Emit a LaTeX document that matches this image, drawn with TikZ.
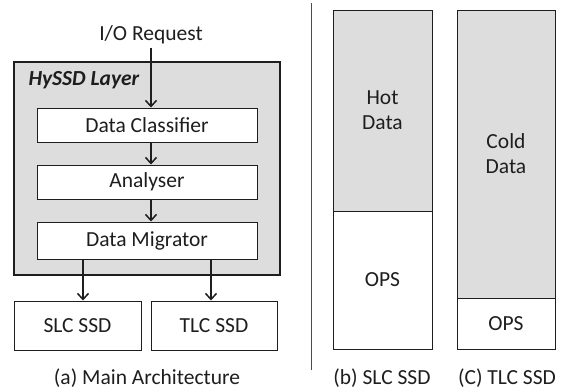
\documentclass[tikz,border=0pt]{standalone}
\usepackage{fontspec}
\setmainfont{Carlito}
\usetikzlibrary{arrows.meta}
\definecolor{boxgray}{RGB}{221,221,221}
\definecolor{ink}{RGB}{30,30,30}

\begin{document}
\begin{tikzpicture}[x=1pt,y=-1pt,
  every node/.style={font=\fontsize{21.5}{25}\selectfont,text=ink},
  block/.style={draw=ink,line width=1pt,fill=white,minimum width=220pt,minimum height=34pt,inner sep=0pt},
  ssd/.style={draw=ink,line width=1pt,fill=white,minimum height=49pt,inner sep=0pt},
  part/.style={draw=ink,line width=1pt,minimum width=99pt,inner sep=0pt,align=center},
  flow/.style={-{Straight Barb[length=6pt,width=11pt]},line width=1.5pt,draw=ink}]

  \useasboundingbox (0,0) rectangle (561,389);

%% HySSD layer
  \node [draw=ink,line width=2.8pt,fill=boxgray,minimum width=266pt,minimum height=213pt,inner sep=0pt]
    (layer) at (147,168.5) {};
  \node [anchor=west,font=\fontsize{21.5}{25}\selectfont\bfseries\itshape] (ltitle) at (25,80) {HySSD Layer};

  \node (io) at (151,35) {I/O Request};

  \node [block] (cls) at (147,125) {Data Classifier};
  \node [block] (ana) at (147,182) {Analyser};
  \node [block,minimum height=37pt] (mig) at (147,240.5) {Data Migrator};

  \node [ssd,minimum width=127pt] (slc) at (77.5,325.5) {SLC SSD};
  \node [ssd,minimum width=126pt] (tlc) at (214,325.5) {TLC SSD};

  \draw [flow] (io.south) -- (io.south |- cls.north);
  \draw [flow] ([xshift=4pt]cls.south) -- ([xshift=4pt]ana.north);
  \draw [flow] ([xshift=4pt]ana.south) -- ([xshift=4pt]mig.north);
  \draw [flow] ([xshift=5.5pt]slc.north |- mig.south) -- ([xshift=5.5pt]slc.north);
  \draw [flow] ([xshift=-3pt]tlc.north |- mig.south) -- ([xshift=-3pt]tlc.north);

  \node (capa) at (147,378) {(a) Main Architecture};

%% divider
  \coordinate (dtop) at (311,3);
  \coordinate (dbot) at (311,370);
  \draw [line width=0.8pt,draw=ink!80] (dtop) -- (dbot);

%% SLC SSD space
  \node [part,fill=boxgray,minimum height=201pt] (hot) at (382.5,110.5) {Hot\\Data};
  \node [part,fill=white,minimum height=138pt] (ops1) at (382.5,280) {OPS};
  \node (capb) at (382,378) {(b) SLC SSD};

%% TLC SSD space
  \node [part,fill=boxgray,minimum width=98pt,minimum height=288pt] (cold) at (506,154) {Cold\\Data};
  \node [part,fill=white,minimum width=98pt,minimum height=51pt] (ops2) at (506,323.5) {OPS};
  \node (capc) at (507,378) {(C) TLC SSD};

\end{tikzpicture}
\end{document}
